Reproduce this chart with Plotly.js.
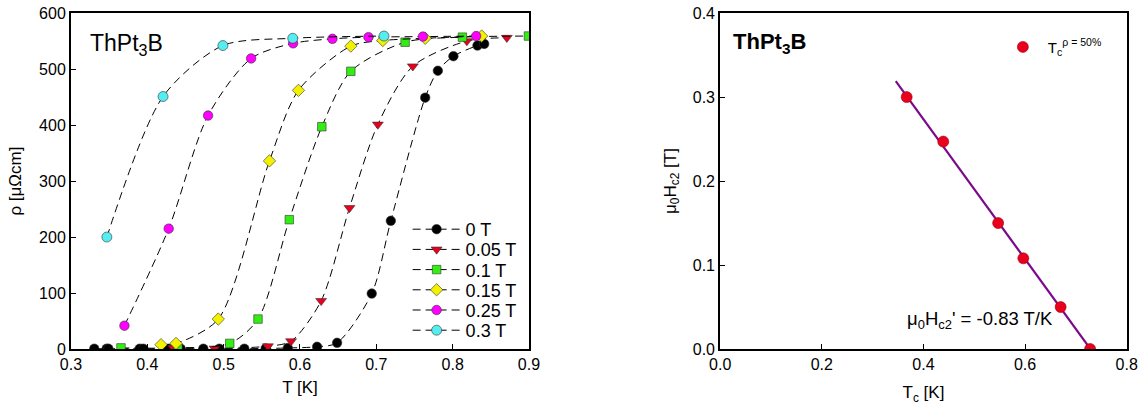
<!DOCTYPE html>
<html><head><meta charset="utf-8">
<script src="https://cdn.plot.ly/plotly-3.0.1.min.js"></script>
<style>html,body{margin:0;padding:0;background:#fff}#chart{width:1145px;height:409px}</style>
</head><body><div id="chart"></div>
<script>
// ---- Left panel: resistivity vs temperature ----
const seriesNames = ['0 T','0.05 T','0.1 T','0.15 T','0.25 T','0.3 T'];
const T_0T   = [0.3305,0.3467,0.349,0.390,0.3948,0.4276,0.4437,0.4734,0.4944,0.5271,0.555,0.584,0.6224,0.6486,0.694,0.719,0.764,0.7806,0.801,0.8325,0.8413];
const R_0T   = [0.5,0.5,0.5,0.5,0.5,0.5,0.5,0.5,0.5,0.5,1,1.8,4,11,99,229,449,497,523,542,545];
const T_005T = [0.434,0.488,0.558,0.5883,0.6277,0.6648,0.702,0.7478,0.8186,0.871];
const R_005T = [2.4,1,5,14,86,252,401,505,550,556];
const T_01T  = [0.3655,0.440,0.508,0.545,0.586,0.6286,0.6666,0.7377,0.8128,0.8993];
const R_01T  = [2,2,10,53.5,231,397,496,548,557,559];
const T_015T = [0.418,0.4376,0.493,0.560,0.598,0.6666,0.7085,0.764,0.838];
const R_015T = [7.7,10,53.5,336,462,541,551,555,559];
const T_025T = [0.370,0.428,0.4796,0.536,0.591,0.6425,0.6897,0.761,0.8308];
const R_025T = [41.6,215,417,519,546,554,557,558,559];
const T_03T  = [0.347,0.4206,0.499,0.5905,0.710];
const R_03T  = [200,451,542,555,559];

// ---- Right panel: upper critical field ----
const Tc   = [0.367,0.439,0.547,0.5966,0.670,0.728];
const Hc2  = [0.300,0.247,0.150,0.108,0.050,0.0];
const fitT = [0.3455,0.731];
const fitH = [0.319,-0.002];

const xTicksL = [0.3,0.4,0.5,0.6,0.7,0.8,0.9];
const yTicksL = [0,100,200,300,400,500,600];
const xTicksR = [0.0,0.2,0.4,0.6,0.8];
const yTicksR = [0.0,0.1,0.2,0.3,0.4];

const styles = [
  {symbol:'circle', color:'#000000', size:9.5},
  {symbol:'triangle-down', color:'#e8001c', size:9.5},
  {symbol:'square', color:'#33ee11', size:8.5},
  {symbol:'diamond', color:'#f2f200', size:9.5},
  {symbol:'circle', color:'#ff00ff', size:9.5},
  {symbol:'circle', color:'#55eef0', size:10}
];
const Ts = [T_0T,T_005T,T_01T,T_015T,T_025T,T_03T];
const Rs = [R_0T,R_005T,R_01T,R_015T,R_025T,R_03T];

const fontFam = 'Liberation Sans, Arial, sans-serif';
const legendIds = ['legend','legend2','legend3','legend4','legend5','legend6'];

const traces = [];
for (let i=0;i<seriesNames.length;i++){
  traces.push({
    x: Ts[i], y: Rs[i], name: seriesNames[i], type:'scatter', mode:'lines+markers',
    xaxis:'x', yaxis:'y', legend: legendIds[i],
    line:{color:'#000', width:1, dash:'8px,5px', shape:'spline', smoothing:0.8},
    marker:{symbol:styles[i].symbol, color:styles[i].color, size: styles[i].size,
            line:{color:'#333', width:0.6}}
  });
}
traces.push({
  x: fitT, y: fitH, type:'scatter', mode:'lines', xaxis:'x2', yaxis:'y2', showlegend:false,
  line:{color:'#7a0a8a', width:2.2}
});
traces.push({
  x: Tc, y: Hc2, type:'scatter', mode:'markers', xaxis:'x2', yaxis:'y2', legend:'legend7',
  name:'T<sub>c</sub><sup>ρ = 50%</sup>',
  marker:{symbol:'circle', color:'#e8001c', size:11, line:{color:'#a00010', width:0.6}}
});

const axCommon = {
  showline:true, linecolor:'#000', linewidth:2, mirror:true, ticks:'inside', ticklen:5,
  tickcolor:'#000', tickwidth:1, showgrid:false, zeroline:false, automargin:false,
  tickfont:{family:fontFam, size:16, color:'#000'}
};

const layout = {
  width:1145, height:409, margin:{l:0,r:0,t:0,b:0},
  paper_bgcolor:'#fff', plot_bgcolor:'#fff',
  font:{family:fontFam, color:'#000'},
  xaxis: Object.assign({}, axCommon, {domain:[0.062,0.462], range:[0.3,0.9], tickvals:xTicksL,
    ticktext:xTicksL.map(v=>v.toFixed(1)), anchor:'y',
    title:{text:'T [K]', font:{size:17, family:fontFam}, standoff:9}}),
  yaxis: Object.assign({}, axCommon, {domain:[0.1467,0.968], range:[0,600], tickvals:yTicksL, anchor:'x',
    title:{text:'ρ [μΩcm]', font:{size:17, family:fontFam}, standoff:13}}),
  xaxis2: Object.assign({}, axCommon, {domain:[0.629,0.984], range:[0,0.8], tickvals:xTicksR,
    ticktext:xTicksR.map(v=>v.toFixed(1)), anchor:'y2',
    title:{text:'T<sub>c</sub> [K]', font:{size:17, family:fontFam}, standoff:14}}),
  yaxis2: Object.assign({}, axCommon, {domain:[0.1467,0.968], range:[0,0.4], tickvals:yTicksR,
    ticktext:yTicksR.map(v=>v.toFixed(1)), anchor:'x2',
    title:{text:'μ<sub>0</sub>H<sub>c2</sub> [T]', font:{size:17, family:fontFam}, standoff:12}}),
  legend7:{x:0.8715, y:0.925, xanchor:'left', yanchor:'top', bgcolor:'rgba(0,0,0,0)',
    font:{size:15, family:fontFam}, itemwidth:40},
  annotations:[
    {xref:'paper', yref:'paper', x:0.077, y:0.89, xanchor:'left', yanchor:'middle', showarrow:false,
     text:'ThPt<sub>3</sub>B', font:{size:23, family:fontFam}},
    {xref:'paper', yref:'paper', x:0.638, y:0.895, xanchor:'left', yanchor:'middle', showarrow:false,
     text:'<b>ThPt<sub>3</sub>B</b>', font:{size:22, family:fontFam}},
    {xref:'x2', yref:'y2', x:0.363, y:0.035, xanchor:'left', yanchor:'middle', showarrow:false,
     text:'μ<sub>0</sub>H<sub>c2</sub>\' = -0.83 T/K', font:{size:18.5, family:fontFam}}
  ],
  showlegend:true
};
// one legend box per row so rows can sit 20 px apart with large text
for (let i=0;i<legendIds.length;i++){
  const rowCenterPx = 229.5 + i*20.2;
  layout[legendIds[i]] = {x:0.356, y:1 - rowCenterPx/409, xanchor:'left', yanchor:'middle',
    bgcolor:'rgba(0,0,0,0)', font:{size:18, family:fontFam}, itemwidth:48};
}

Plotly.newPlot('chart', traces, layout, {displayModeBar:false, staticPlot:true});
</script>
</body></html>
